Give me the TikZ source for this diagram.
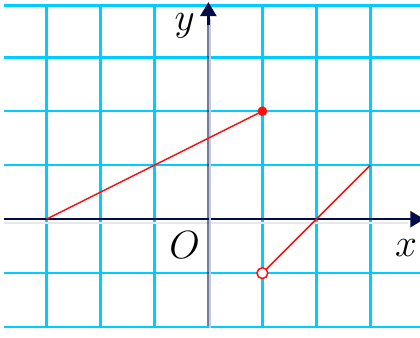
\documentclass[tikz,border=0pt]{standalone}
\usepackage{xcolor}
\usepackage{tikz}
\usetikzlibrary{arrows.meta}
\definecolor{gridc}{HTML}{00CCFF}
\definecolor{axc}{HTML}{000C48}
\definecolor{segc}{HTML}{FF1010}
\tikzset{
  gr/.style={gridc,line width=1.35pt},
  ax/.style={-{Triangle[length=2.6mm,width=3mm]},line width=1.2pt,axc},
  shd/.style={axc!10,line width=0.6pt},
  seg/.style={segc,line width=0.8pt},
  lbl/.style={anchor=base,inner sep=0pt,font=\fontsize{22}{22}\selectfont}
}
\begin{document}
\begin{tikzpicture}[x=1cm,y=1cm]
\useasboundingbox (-3.86,-2.2) rectangle (3.92,4.06);
% grid
\foreach \i in {-3,-2,-1,1,2,3}{\draw[gr] (\i,-2) -- (\i,3.96);}
\foreach \j in {-2,-1,1,2,3,3.96}{\draw[gr] (-3.78,\j) -- (3.95,\j);}
% axes
\draw[shd] (-3.78,-0.07) -- (3.7,-0.07);
\draw[ax] (-3.78,0) -- (4.0,0);
\draw[axc!22,line width=1pt] (0.035,-2.02) -- (0.035,3.7);
\draw[axc,opacity=0.55,line width=1.1pt] (-0.015,-1.98) -- (-0.015,3.7);
\draw[ax] (0,3.6) -- (0,4.02);
\node[lbl] (ylab) at (-0.44,3.5) {$y$};
\node[lbl] (xlab) at (3.66,-0.70) {$x$};
\node[lbl] (orig) at (-0.44,-0.72) {$O$};
% segments
\coordinate (lA) at (-3,0);
\coordinate (lB) at (1,2);
\coordinate (rA) at (1,-1);
\coordinate (rB) at (3,1);
\draw[seg] (lA) -- (lB);
\draw[seg] (rA) -- (rB);
\fill[segc] (lB) circle (0.09);
\draw[segc,line width=0.8pt,fill=white] (rA) circle (0.1);
\end{tikzpicture}
\end{document}
